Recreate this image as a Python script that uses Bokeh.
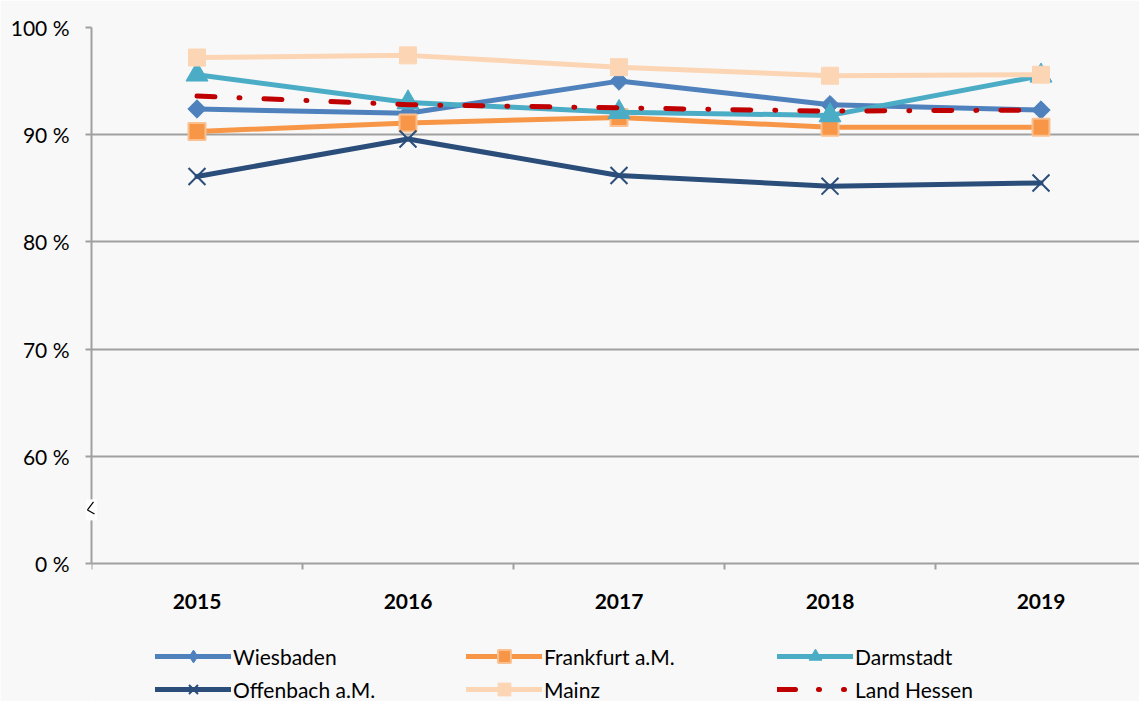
from bokeh.plotting import figure
from bokeh.models import Range1d, FixedTicker, Legend, LegendItem
from bokeh.embed import file_html
from bokeh.resources import INLINE
import numpy as np

years = ["2015", "2016", "2017", "2018", "2019"]
wiesbaden = [92.4, 92.0, 95.0, 92.8, 92.3]
frankfurt = [90.3, 91.1, 91.6, 90.7, 90.7]
darmstadt = [95.6, 93.0, 92.1, 91.8, 95.5]
offenbach = [86.1, 89.6, 86.2, 85.2, 85.5]
mainz = [97.2, 97.4, 96.3, 95.5, 95.6]
hessen = [93.6, 92.8, 92.5, 92.2, 92.3]

y_ticks = [50, 60, 70, 80, 90, 100]
y_labels = ["0 %", "60 %", "70 %", "80 %", "90 %", "100 %"]

FONT = "Lato"
GRID = "#a0a0a0"
BG = "#f8f8f8"

W, H = 1139, 701
LEFT, TOP = 91, 27
PX_PER_CAT = 211.0
PX_PER_UNIT = 10.72
frame_w = W - LEFT
frame_h = H - TOP
x_end = frame_w / PX_PER_CAT - 0.5
y_start = 100 - frame_h / PX_PER_UNIT

xs = list(range(len(years)))

p = figure(width=W, height=H, output_backend="svg", toolbar_location=None,
           x_range=Range1d(-0.5, x_end), y_range=Range1d(y_start, 100),
           min_border_left=LEFT, min_border_right=0, min_border_top=TOP, min_border_bottom=0)
p.background_fill_color = BG
p.border_fill_color = BG
p.outline_line_color = None

# axes
p.yaxis.ticker = FixedTicker(ticks=y_ticks)
p.yaxis.bounds = (50, 100)
p.yaxis.major_label_overrides = {t: l for t, l in zip(y_ticks, y_labels)}
p.yaxis.axis_line_color = GRID
p.yaxis.axis_line_width = 2
p.yaxis.major_tick_line_color = GRID
p.yaxis.major_tick_line_width = 2
p.yaxis.major_tick_out = 6
p.yaxis.major_tick_in = 0
p.yaxis.minor_tick_line_color = None
p.yaxis.major_label_standoff = 16
p.yaxis.major_label_text_font = FONT
p.yaxis.major_label_text_font_size = "21px"
p.yaxis.major_label_text_color = "#000000"

p.xaxis.fixed_location = 50
p.xaxis.ticker = FixedTicker(ticks=xs, minor_ticks=[-0.5, 0.5, 1.5, 2.5, 3.5])
p.xaxis.major_label_overrides = {i: y for i, y in enumerate(years)}
p.xaxis.axis_line_color = GRID
p.xaxis.axis_line_width = 2
p.xaxis.major_tick_line_color = None
p.xaxis.minor_tick_line_color = GRID
p.xaxis.minor_tick_line_width = 2
p.xaxis.minor_tick_out = 6
p.xaxis.minor_tick_in = 0
p.xaxis.major_label_standoff = 24
p.xaxis.major_label_text_font = FONT
p.xaxis.major_label_text_font_size = "21px"
p.xaxis.major_label_text_font_style = "bold"
p.xaxis.major_label_text_color = "#000000"

p.xgrid.grid_line_color = None
p.ygrid.ticker = FixedTicker(ticks=[60, 70, 80, 90, 100])
p.ygrid.grid_line_color = GRID
p.ygrid.grid_line_width = 2

LW = 5
items = []
OFF_X = [-10, -9]
OFF_Y = [0, 0]

def series(name, vals, color, marker, size, fill, line_col, mlw=1.5, angle=0.0,
           dash="solid", legend_marker=None, legend_dash=None):
    r1 = p.line(xs, vals, line_color=color, line_width=LW, line_dash=dash,
                line_cap="round", line_join="round")
    rs = [r1]
    if legend_dash is not None:
        rs = [p.line(OFF_X, OFF_Y, line_color=color, line_width=LW, line_dash=legend_dash,
                     line_cap="round")]
    if marker is not None:
        r2 = p.scatter(xs, vals, marker=marker, size=size, fill_color=fill,
                       line_color=line_col, line_width=mlw, angle=angle)
        if legend_marker is not None:
            r2 = p.scatter(OFF_X[:1], OFF_Y[:1], marker=legend_marker, size=size,
                           fill_color=fill, line_color=line_col, line_width=mlw)
        rs.append(r2)
    items.append(LegendItem(label=name, renderers=rs))

series("Wiesbaden", wiesbaden, "#4f81bd", "square", 13, "#4f81bd", "#4f81bd", 1,
       angle=np.pi / 4, legend_marker="diamond")
series("Frankfurt a.M.", frankfurt, "#f79646", "square", 17, "#f79646", "#fac090", 2)
series("Darmstadt", darmstadt, "#4bacc6", "triangle", 22, "#4bacc6", "#4bacc6", 1)
series("Offenbach a.M.", offenbach, "#2a4d7a", "x", 24, None, "#2a4d7a", 2)
series("Mainz", mainz, "#fcd5b5", "square", 17, "#fcd5b5", "#fcd5b5", 1)
series("Land Hessen", hessen, "#c00000", None, 0, None, None, dash="18 24 1 24",
       legend_dash="18 23 1 24 1 100")

# axis break symbol
px_x = 1.0 / PX_PER_CAT
px_y = 1.0 / PX_PER_UNIT
p.rect(x=-0.5, y=55, width=11, height=21, width_units="screen", height_units="screen",
       fill_color="#ffffff", line_color=None, level="overlay")
p.line([-0.5 + 2 * px_x, -0.5 - 4 * px_x, -0.5 + 3 * px_x],
       [55 + 8 * px_y, 55 + 0 * px_y, 55 - 4 * px_y],
       line_color="#000000", line_width=1.2, level="overlay")

legend = Legend(items=items, orientation="horizontal", ncols=3,
                location=(64, -4), padding=0, margin=0, spacing=1,
                glyph_width=76, glyph_height=32, label_standoff=2, label_width=232,
                label_text_font=FONT, label_text_font_size="21px",
                label_text_color="#000000", background_fill_alpha=0,
                border_line_color=None)
p.add_layout(legend, "center")

open("out.html", "w").write(file_html(p, INLINE))
